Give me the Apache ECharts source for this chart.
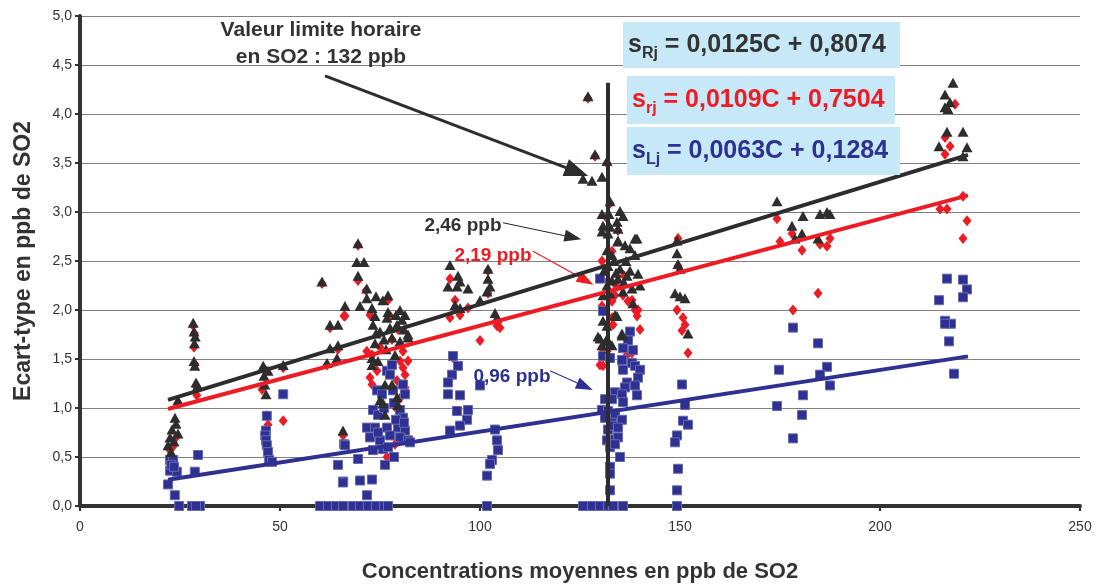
<!DOCTYPE html>
<html>
<head>
<meta charset="utf-8">
<script src="https://cdn.jsdelivr.net/npm/echarts@6/dist/echarts.min.js"></script>
<style>
  html, body { margin: 0; padding: 0; background: #fff; }
  #chart { width: 1099px; height: 588px; }
</style>
</head>
<body>
<div id="chart"></div>
<script>
// écart-type R (triangles noirs)
var sRjPoints = [
  [22,0.62],[22.5,0.7],[23,0.78],[23.5,0.66],[24,0.84],[23.75,0.9],[24.5,0.74],[22.75,0.55],[24.5,1.08],
  [28.3,1.87],[28.5,1.78],[28.8,1.73],[28.6,1.66],[28.5,1.48],[28.7,1.43],[29,1.26],[29.4,1.23],
  [45.8,1.43],[46,1.33],[46.2,1.24],[46.5,1.14],[47,1.38],[50.8,1.44],
  [60.5,2.29],[62.5,1.85],[64.5,1.85],[66.25,2.04],[62.5,1.61],[64.5,1.64],[61.75,1.46],[64.25,1.51],[65.75,0.77],
  [69.5,2.68],[69.2,2.49],[71,2.49],[69.5,2.35],[71.7,2.22],[70,2.04],[71.7,2.12],[74,2.14],[75.7,2.1],[77,2.15],
  [73,2.02],[73.75,1.94],[76.75,1.92],[80,2.0],[81.25,1.95],[73.25,1.85],[77.5,1.82],[79.25,1.85],[82,1.75],
  [73.75,1.66],[78.75,1.54],[73,1.51],[74.5,1.48],[73,1.44],[76.25,1.24],[78,1.24],[75,1.08],[75.75,1.05],
  [79.25,1.11],[79.5,1.03],[76.25,0.93],[75,1.78],[76,1.7],[78,1.72],[80,1.68],[81,1.8],[79,1.95],[82,1.72],
  [76.5,1.6],[74,1.76],[77,1.98],[80.5,1.9],
  [92.5,2.46],[94.5,2.35],[95,2.29],[92,2.24],[94.25,2.24],[97,2.22],[93.75,2.05],[95,2.02],[100,2.1],
  [102,2.42],[102,2.32],[102.5,2.24],[101.75,2.19],[103.75,1.97],[104.25,1.92],
  [127,4.18],[128.75,3.59],[131.75,3.52],[125.75,3.34],[128,3.32],[130.5,3.36],[132.5,3.11],[130.5,2.98],
  [132.25,2.98],[135,3.01],[135.75,2.96],[130.75,2.86],[132.5,2.85],[134.25,2.9],[134.5,2.83],[130.5,2.8],
  [132,2.78],[139.25,2.73],[134.5,2.7],[136.25,2.66],[137.5,2.63],[138.75,2.56],[131.75,2.61],[133,2.56],
  [131.75,2.25],[134.5,2.32],[136.75,2.35],[139.5,2.37],[135.75,2.19],[138,2.22],[140,2.25],[130.75,2.15],
  [132.5,2.17],[138.25,2.07],[134.25,1.94],[130.75,1.89],[131.75,1.84],[129.5,1.73],[131.75,1.71],[135.5,1.74],
  [130.5,1.64],[133,1.64],[133.75,1.95],[135.5,1.76],[130,1.71],[131.75,1.68],[134.5,2.71],[138.75,2.73],
  [132,2.45],[133.5,2.5],[135,2.42],[136.5,2.5],[131,2.4],[137.5,2.4],[134,2.38],[133,2.3],[136,2.28],
  [149.25,2.71],[149.25,2.58],[149.5,2.47],[150,2.42],[148.75,2.17],[150,2.14],[151.25,2.12],[152,1.76],
  [174.25,3.11],[180.75,2.96],[185,2.98],[186.75,3.0],[187.5,2.98],[178,2.86],[180.5,2.78],[178.75,2.73],[184.5,2.73],
  [218.25,4.32],[216.25,4.2],[216.25,4.07],[217.5,4.12],[217,4.05],[216.75,3.82],[220.75,3.82],[214.75,3.67],
  [221.75,3.66],[220.75,3.57]
];
// écart-type r (losanges rouges)
var srjPoints = [
  [22.5,0.57],[23,0.5],[23.5,0.62],[24,0.7],[24.5,1.05],[28.3,1.84],[28.6,1.76],[28.5,1.62],[28.7,1.45],[29.2,1.13],[29,1.22],
  [45.5,1.19],[46.7,0.92],[47,0.83],[50.8,0.87],[46,1.4],[50.8,1.41],
  [60.5,2.27],[62.5,1.82],[64.5,1.6],[66,1.94],[65.75,0.72],[61.75,1.44],
  [69.5,2.66],[69.5,2.3],[66.25,1.94],[72.5,1.95],[77.5,1.94],[71.7,1.58],[73,1.54],[80.75,1.58],[72.5,1.31],
  [73,1.24],[74.25,1.38],[80,1.48],[80.75,1.41],[81.25,1.34],[79.25,1.28],[81.25,1.21],[76.75,0.5],[78.75,0.63],
  [79,1.0],[80,1.1],[81,0.9],[78,1.7],[75,1.62],[82,1.48],[71.5,2.2],[77,2.1],[79.5,1.8],
  [92.5,2.32],[92.5,1.92],[95,1.95],[93.75,2.1],[97,2.02],[100,1.69],[102,2.17],[104.25,1.84],[105,1.82],[93.3,1.51],[102,2.4],
  [127,4.16],[128.75,3.57],[131.75,3.5],[132.5,3.09],[134.5,2.81],[130.5,2.04],[133,2.09],[133.75,2.15],[135.75,2.15],
  [137,2.09],[138,2.1],[138.75,2.0],[139.25,1.94],[140,1.8],[133,1.92],[133.25,1.85],[130.5,1.61],[131.75,1.58],
  [136.75,1.54],[138,1.56],[130,1.44],[130.75,1.43],[135.5,1.43],[139.5,2.0],[132,2.3],[134,2.25],[136,2.35],
  [130.5,2.5],[133,2.6],[131.5,2.95],
  [149.5,2.73],[149.25,2.0],[150.75,1.92],[151.25,1.85],[150.5,1.79],[152,1.56],[149.5,2.45],
  [174.25,2.93],[175,2.7],[178,2.78],[180.5,2.61],[185,2.67],[186.75,2.65],[187.5,2.73],[184.5,2.17],[178.25,2.0],
  [218.75,4.1],[216.25,3.76],[217.5,3.67],[216.25,3.59],[220.75,3.16],[215,3.03],[216.75,3.03],[221.75,2.91],[220.75,2.73]
];
// écart-type L (carrés bleus)
var sLjPoints = [
  [22.5,0.47],[23.3,0.47],[22.5,0.36],[24.2,0.35],[22,0.22],[23.7,0.11],[24.8,0],[22.8,0.42],[23.5,0.4],
  [29.5,0.52],[28.7,0.35],[28,0],[30,0],[29,0],
  [50.8,1.14],[46.7,0.92],[46.5,0.77],[46.3,0.72],[46.5,0.67],[46.7,0.62],[47,0.55],[47.3,0.47],[48,0.45],
  [66,0.63],[64.5,0.42],[65.8,0.25],[60,0],[62,0],[64,0],[65.75,0],
  [76.75,1.38],[78,1.44],[77.5,1.34],[80.75,1.24],[81.25,1.14],[74.25,1.18],[75.5,1.14],[78.25,1.18],[73.25,0.98],
  [74.5,0.93],[80,0.98],[80.75,0.9],[71.75,0.8],[73.75,0.8],[76.75,0.8],[79.5,0.8],[81.25,0.77],[72.5,0.7],[75,0.67],
  [77.5,0.72],[80,0.7],[82,0.67],[73.25,0.57],[75.75,0.58],[66.25,0.62],[69.5,0.48],[76.25,0.42],[65.75,0.24],
  [70,0.26],[73,0.27],[71.75,0.11],[68.25,0],[70,0],[72,0],[74,0],[76,0],[77,0],[82.5,0.65],[78.5,1.05],[76,1.0],
  [79,0.88],[77,0.6],[74.5,0.75],[81,0.85],[78.5,0.5],
  [93.25,1.53],[94.5,1.43],[93,1.34],[92,1.26],[92,1.14],[95,1.13],[100,1.23],[94.25,0.97],[97,0.98],[96.75,0.88],
  [95,0.82],[92.5,0.77],[103.75,0.78],[104.25,0.67],[104.5,0.57],[103,0.47],[102.5,0.43],[101.75,0.31],[101.75,0],
  [130,2.32],[130.75,1.99],[137.5,1.78],[137,1.69],[135.75,1.61],[138.25,1.59],[130.75,1.53],[132.5,1.51],[135.5,1.49],
  [135.75,1.39],[138,1.46],[138.75,1.43],[140,1.39],[139.5,1.31],[136.75,1.26],[138.75,1.23],[136.25,1.21],[133.75,1.16],
  [135.5,1.14],[139.25,1.13],[131.25,1.09],[133,1.09],[135.75,1.06],[130.5,0.98],[132,0.97],[133.75,0.93],[135.5,0.88],
  [131.25,0.9],[133,0.85],[132,0.78],[133.25,0.82],[134.5,0.8],[131.75,0.67],[133.75,0.68],[134.5,0.7],[132.5,0.6],
  [133.75,0.63],[135,0.5],[132.5,0.4],[132.5,0.33],[132.5,0.16],[125.75,0],[128,0],[130,0],[132,0],[133.25,0],[135.75,0],
  [150.5,1.24],[151.25,1.03],[150.75,0.87],[152,0.83],[149.25,0.72],[148.75,0.65],[149.5,0.38],[149.25,0.16],[149.25,0],
  [178.25,1.82],[184.5,1.66],[174.75,1.39],[186.75,1.42],[185,1.34],[187.5,1.23],[180.75,1.13],[174.25,1.02],[180.5,0.93],[178.25,0.69],
  [216.75,2.32],[220.75,2.31],[221.75,2.21],[220.75,2.13],[214.75,2.1],[216.25,1.89],[217.75,1.86],[216.25,1.86],[217.25,1.68],[218.5,1.35]
];

// droites de régression : s = a*C + b
var fitSlopes = [0.0125, 0.0109, 0.0063];
var fitIntercepts = [0.8074, 0.7504, 0.1284];
var fitRange = [22, 222];
var fitLabels = ['0,0125C + 0,8074', '0,0109C + 0,7504', '0,0063C + 0,1284'];

// valeur limite horaire
var limitValue = 132;
var limitTop = 4.32;

// flèches d'annotation [départ, arrivée]
var arrowBig = [[61.25, 4.39], [124.25, 3.41]];
var arrowR = [[105.75, 2.89], [123.25, 2.74]];
var arrowRr = [[113.25, 2.60], [126.5, 2.30]];
var arrowL = [[117.5, 1.38], [126.25, 1.22]];

var xTicks = [0, 250, 50];
var yTicks = [0, 5, 0.5];

var BLACK = '#2d2d2d', RED = '#ed1c24', BLUE = '#2e3192';
var FONT = '"Liberation Sans", Arial, sans-serif';

function fitLine(i) {
  return fitRange.map(function (c) {
    return [c, fitSlopes[i] * c + fitIntercepts[i]];
  });
}

function arrowItem(a, color, width, size) {
  return [
    { coord: a[0], symbol: 'none', lineStyle: { color: color, width: width, type: 'solid' } },
    { coord: a[1], symbol: 'triangle', symbolSize: size }
  ];
}

var chartDom = document.getElementById('chart');
var myChart = echarts.init(chartDom);
var option;

// encadrés des équations
function eqBox(x, y, w, h, sub, txt, color) {
  return [
    { type: 'rect', shape: { x: x, y: y, width: w, height: h }, style: { fill: '#c6e8f7' }, z: 10 },
    {
      type: 'text', x: x + 5, y: y + h / 2, z: 11,
      style: {
        text: '{s|s}{sub|' + sub + '}{s| = ' + txt + '}',
        verticalAlign: 'middle',
        rich: {
          s: { fontSize: 25, fontWeight: 'bold', fontFamily: FONT, fill: color, lineHeight: 34 },
          sub: { fontSize: 16, fontWeight: 'bold', fontFamily: FONT, fill: color, verticalAlign: 'bottom' }
        }
      }
    }
  ];
}

function label(txt, x, y, color, size) {
  return {
    type: 'text', x: x, y: y, z: 11,
    style: {
      text: txt, fill: color, align: 'center', verticalAlign: 'middle',
      font: 'bold ' + size + 'px ' + FONT, lineHeight: 27
    }
  };
}

option = {
  animation: false,
  grid: { left: 80, right: 19, top: 16, bottom: 79 },
  xAxis: {
    type: 'value',
    min: xTicks[0], max: xTicks[1], interval: xTicks[2],
    name: 'Concentrations moyennes en ppb de SO2',
    nameLocation: 'middle',
    nameGap: 55,
    nameTextStyle: { fontSize: 22, fontWeight: 'bold', color: '#333', fontFamily: FONT },
    axisLine: { lineStyle: { color: '#333', width: 4 } },
    axisTick: { show: true, length: 5, lineStyle: { color: '#333', width: 2 } },
    axisLabel: { color: '#333', fontSize: 14, margin: 14, fontFamily: FONT },
    splitLine: { show: false }
  },
  yAxis: {
    type: 'value',
    min: yTicks[0], max: yTicks[1], interval: yTicks[2],
    name: 'Ecart-type en ppb de SO2',
    nameLocation: 'middle',
    nameGap: 45,
    nameTextStyle: { fontSize: 23, fontWeight: 'bold', color: '#333', fontFamily: FONT },
    axisLine: { show: true, lineStyle: { color: '#333', width: 4 } },
    axisTick: { show: true, length: 5, lineStyle: { color: '#333', width: 2 } },
    axisLabel: {
      color: '#333', fontSize: 14, margin: 8, fontFamily: FONT,
      formatter: function (v) { return v.toFixed(1).replace('.', ','); }
    },
    splitLine: { lineStyle: { color: '#808080', width: 1 } }
  },
  series: [
    {
      name: 'srj', type: 'scatter', data: srjPoints, clip: false,
      symbol: 'diamond', symbolSize: [9, 11],
      itemStyle: { color: RED, opacity: 1 }, z: 2
    },
    {
      name: 'sLj', type: 'scatter', data: sLjPoints, clip: false,
      symbol: 'rect', symbolSize: 9,
      itemStyle: { color: BLUE, borderColor: '#6569b0', borderWidth: 1, opacity: 1 }, z: 3
    },
    {
      name: 'sRj', type: 'scatter', data: sRjPoints, clip: false,
      symbol: 'triangle', symbolSize: [11, 10],
      itemStyle: { color: BLACK, opacity: 1 }, z: 4
    },
    { type: 'line', data: fitLine(0), showSymbol: false, lineStyle: { color: BLACK, width: 4 }, z: 5 },
    { type: 'line', data: fitLine(1), showSymbol: false, lineStyle: { color: RED, width: 4 }, z: 5 },
    { type: 'line', data: fitLine(2), showSymbol: false, lineStyle: { color: BLUE, width: 4 }, z: 5 },
    {
      type: 'line',
      data: [[limitValue, 0], [limitValue, limitTop]],
      showSymbol: false,
      lineStyle: { color: BLACK, width: 4 },
      z: 6,
      markLine: {
        silent: true,
        label: { show: false },
        symbol: ['none', 'triangle'],
        data: [
          arrowItem(arrowBig, BLACK, 3, [18, 24]),
          arrowItem(arrowR, BLACK, 1.2, [12, 17]),
          arrowItem(arrowRr, RED, 1.2, [12, 17]),
          arrowItem(arrowL, BLUE, 1.2, [12, 17])
        ]
      }
    }
  ],
  graphic: [].concat(
    eqBox(623, 22, 277, 46, 'Rj', fitLabels[0], '#333'),
    eqBox(627, 76, 268, 48, 'rj', fitLabels[1], RED),
    eqBox(627, 127, 273, 48, 'Lj', fitLabels[2], BLUE),
    [
      label('Valeur limite horaire\nen SO2 : 132 ppb', 321, 44, '#333', 21),
      label('2,46 ppb', 463, 226, '#333', 19),
      label('2,19 ppb', 493, 256, RED, 19),
      label('0,96 ppb', 512, 377, BLUE, 19)
    ]
  )
};

option && myChart.setOption(option);
</script>
</body>
</html>
